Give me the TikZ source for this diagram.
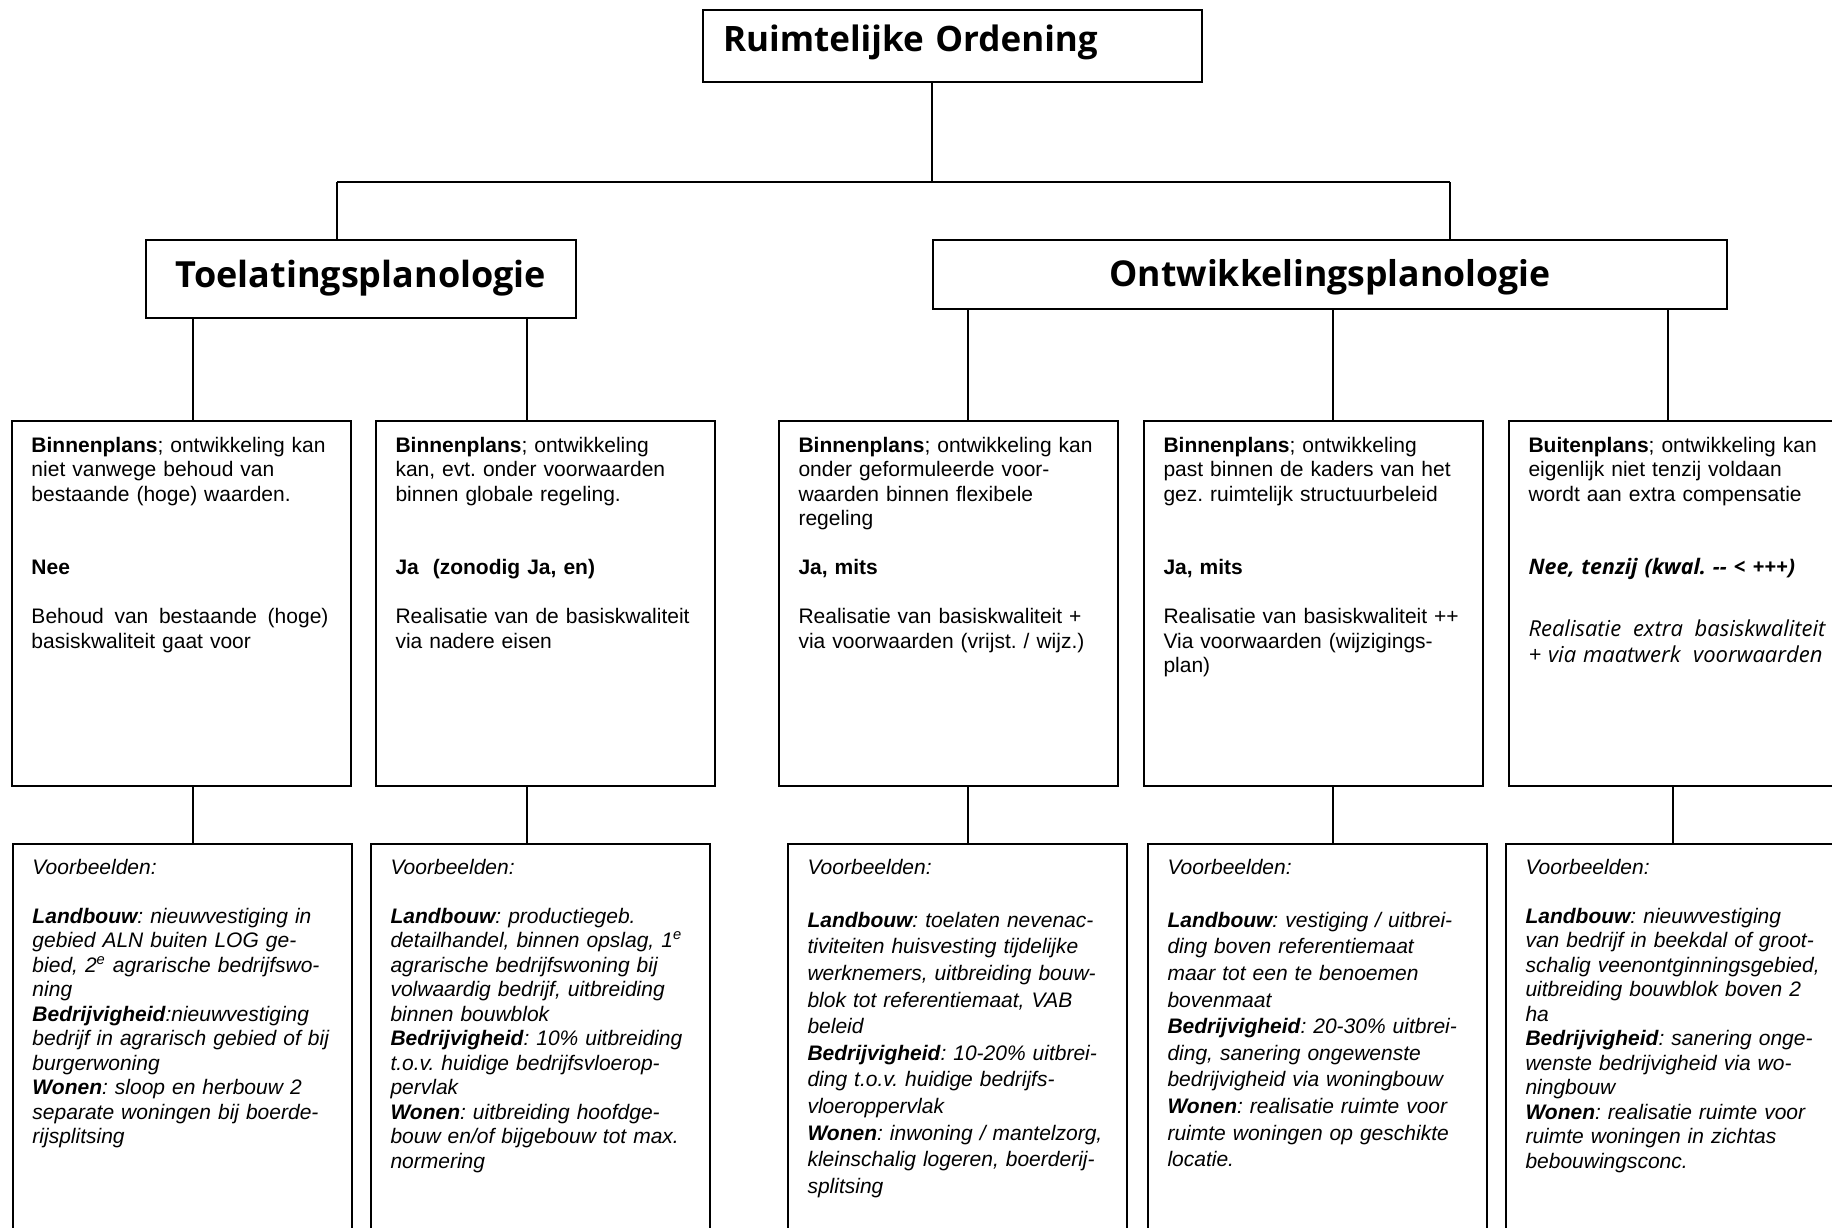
\documentclass[tikz,border=0pt]{standalone}
\usepackage{fontspec}
\setmainfont{Liberation Sans}
\newfontfamily\kopfont{Open Sans}
\usepackage{tikz}
\frenchspacing

\tikzset{
  kop/.style={draw, line width=1pt, anchor=north west, inner sep=0pt, align=center,
    font=\kopfont\bfseries\fontsize{18pt}{21pt}\selectfont},
  vak/.style={draw, line width=1pt, anchor=north west, text width=150pt, inner xsep=9.75pt,
    inner ysep=0pt, align=left, text height=15.5pt, text depth=167pt,
    font=\fontsize{10.5pt}{12.25pt}\selectfont},
  voorbeeld/.style={vak, text height=15pt, text depth=220pt,
    font=\itshape\fontsize{10.5pt}{12.25pt}\selectfont},
  lijn/.style={line width=0.6pt}
}

\begin{document}
\begin{tikzpicture}[x=0.5pt, y=-0.5pt]
	\useasboundingbox (0,0) rectangle (1832,1227);

	\node[kop, align=left, text width=229.5pt, inner xsep=10pt, text height=20.5pt, text depth=15.5pt,
		font=\kopfont\bfseries\fontsize{17.5pt}{20pt}\selectfont] (ro) at (702, 9) {Ruimtelijke Ordening};
	\node[kop, text width=215pt, text height=23.5pt, text depth=15.5pt]	(toel)	at (145, 239)	{Toelatingsplanologie};
	\node[kop, text width=397pt, text height=23pt, text depth=11.5pt,
		font=\kopfont\bfseries\fontsize{17.8pt}{21pt}\selectfont]	(ontw)	at (932, 239)	{Ontwikkelingsplanologie};

	% middelste rij
	\node[vak] (b1) at (11, 420) {\textbf{Binnenplans}; ontwikkeling kan\\
		niet vanwege behoud van\\
		bestaande (hoge) waarden.\\[24.5pt]
		\textbf{Nee}\\[12.25pt]
		\makebox[148.5pt][l]{Behoud\hfill van\hfill bestaande\hfill (hoge)}\\
		basiskwaliteit gaat voor};
	\node[vak] (b2) at (375, 420) {\textbf{Binnenplans}; ontwikkeling\\
		kan, evt. onder voorwaarden\\
		binnen globale regeling.\\[24.5pt]
		\textbf{Ja~~(zonodig Ja, en)}\\[12.25pt]
		Realisatie van de basiskwaliteit\\
		via nadere eisen};
	\node[vak] (b3) at (778, 420) {\textbf{Binnenplans}; ontwikkeling kan\\
		onder geformuleerde voor-\\
		waarden binnen flexibele\\
		regeling\\[12.25pt]
		\textbf{Ja, mits}\\[12.25pt]
		Realisatie van basiskwaliteit +\\
		via voorwaarden (vrijst. / wijz.)};
	\node[vak] (b4) at (1143, 420) {\textbf{Binnenplans}; ontwikkeling\\
		past binnen de kaders van het\\
		gez. ruimtelijk structuurbeleid\\[24.5pt]
		\textbf{Ja, mits}\\[12.25pt]
		Realisatie van basiskwaliteit ++\\
		Via voorwaarden (wijzigings-\\
		plan)};
	\node[vak] (b5) at (1508, 420) {\textbf{Buitenplans}; ontwikkeling kan\\
		eigenlijk niet tenzij voldaan\\
		wordt aan extra compensatie\\[24.5pt]
		{\kopfont\bfseries\itshape\fontsize{10.7pt}{12.25pt}\selectfont Nee, tenzij (kwal. -{}- < +++)}\\[18.5pt]
		{\kopfont\itshape\fontsize{11pt}{12.25pt}\selectfont
		\makebox[148.5pt][l]{Realisatie \hfill extra \hfill basiskwaliteit}}\\[0.75pt]
		{\kopfont\itshape\fontsize{11pt}{12.25pt}\selectfont
		\makebox[147pt][l]{+ via maatwerk \hfill voorwaarden}}};

	% onderste rij
	\node[voorbeeld] (e1) at (12, 843) {Voorbeelden:\\[12.25pt]
		\textbf{Landbouw}: nieuwvestiging in\\
		gebied ALN buiten LOG ge-\\
		bied, 2\textsuperscript{e} agrarische bedrijfswo-\\
		ning\\
		\textbf{Bedrijvigheid}:nieuwvestiging\\
		bedrijf in agrarisch gebied of bij\\
		burgerwoning\\
		\textbf{Wonen}: sloop en herbouw 2\\
		separate woningen bij boerde-\\
		rijsplitsing};
	\node[voorbeeld] (e2) at (370, 843) {Voorbeelden:\\[12.25pt]
		\textbf{Landbouw}: productiegeb.\\
		detailhandel, binnen opslag, 1\textsuperscript{e}\\
		agrarische bedrijfswoning bij\\
		volwaardig bedrijf, uitbreiding\\
		binnen bouwblok\\
		\textbf{Bedrijvigheid}: 10\% uitbreiding\\
		t.o.v. huidige bedrijfsvloerop-\\
		pervlak\\
		\textbf{Wonen}: uitbreiding hoofdge-\\
		bouw en/of bijgebouw tot max.\\
		normering};
	\node[voorbeeld, font=\itshape\fontsize{10.5pt}{13.3pt}\selectfont] (e3) at (787, 843) {Voorbeelden:\\[13.3pt]
		\textbf{Landbouw}: toelaten nevenac-\\
		tiviteiten huisvesting tijdelijke\\
		werknemers, uitbreiding bouw-\\
		blok tot referentiemaat, VAB\\
		beleid\\
		\textbf{Bedrijvigheid}: 10-20\% uitbrei-\\
		ding t.o.v. huidige bedrijfs-\\
		vloeroppervlak\\
		\textbf{Wonen}: inwoning / mantelzorg,\\
		kleinschalig logeren, boerderij-\\
		splitsing};
	\node[voorbeeld, font=\itshape\fontsize{10.5pt}{13.3pt}\selectfont] (e4) at (1147, 843) {Voorbeelden:\\[13.3pt]
		\textbf{Landbouw}: vestiging / uitbrei-\\
		ding boven referentiemaat\\
		maar tot een te benoemen\\
		bovenmaat\\
		\textbf{Bedrijvigheid}: 20-30\% uitbrei-\\
		ding, sanering ongewenste\\
		bedrijvigheid via woningbouw\\
		\textbf{Wonen}: realisatie ruimte voor\\
		ruimte woningen op geschikte\\
		locatie.};
	\node[voorbeeld] (e5) at (1505, 843) {Voorbeelden:\\[12.25pt]
		\textbf{Landbouw}: nieuwvestiging\\
		van bedrijf in beekdal of groot-\\
		schalig veenontginningsgebied,\\
		uitbreiding bouwblok boven 2\\
		ha\\
		\textbf{Bedrijvigheid}: sanering onge-\\
		wenste bedrijvigheid via wo-\\
		ningbouw\\
		\textbf{Wonen}: realisatie ruimte voor\\
		ruimte woningen in zichtas\\
		bebouwingsconc.};

	% lijnen
	\coordinate (jt) at (932, 182);
	\coordinate (jl) at (337, 182);
	\coordinate (jr) at (1450, 182);
	\draw[lijn] (ro.south -| jt) to (jt);
	\draw[lijn] (jl) to (jr);
	\draw[lijn] (jl) to (jl |- toel.north);
	\draw[lijn] (jr) to (jr |- ontw.north);

	\coordinate (k1) at (193, 0);
	\coordinate (k2) at (527, 0);
	\coordinate (k3) at (968, 0);
	\coordinate (k4) at (1333, 0);
	\coordinate (k5) at (1668, 0);
	\coordinate (k6) at (1673, 0);
	\draw[lijn] (k1 |- toel.south) to (k1 |- b1.north);
	\draw[lijn] (k2 |- toel.south) to (k2 |- b2.north);
	\draw[lijn] (k3 |- ontw.south) to (k3 |- b3.north);
	\draw[lijn] (k4 |- ontw.south) to (k4 |- b4.north);
	\draw[lijn] (k5 |- ontw.south) to (k5 |- b5.north);
	\draw[lijn] (k1 |- b1.south) to (k1 |- e1.north);
	\draw[lijn] (k2 |- b2.south) to (k2 |- e2.north);
	\draw[lijn] (k3 |- b3.south) to (k3 |- e3.north);
	\draw[lijn] (k4 |- b4.south) to (k4 |- e4.north);
	\draw[lijn] (k6 |- b5.south) to (k6 |- e5.north);
\end{tikzpicture}
\end{document}
